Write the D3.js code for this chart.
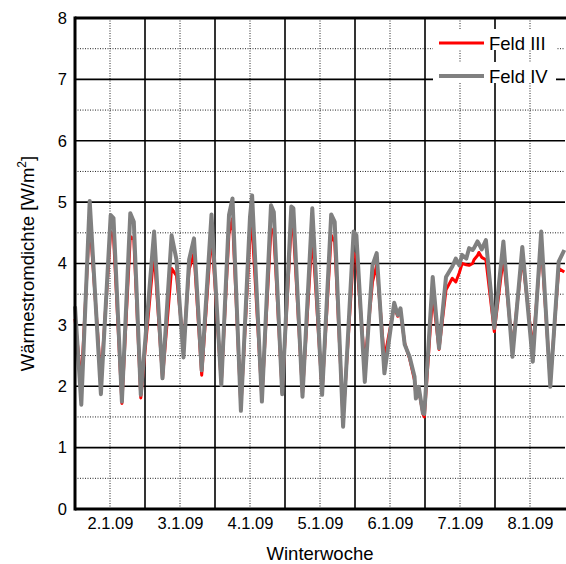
<!DOCTYPE html>
<html>
<head>
<meta charset="utf-8">
<script src="https://cdn.jsdelivr.net/npm/d3@7"></script>
<style>
  html, body { margin: 0; padding: 0; background: #fff; }
  svg { display: block; font-family: "Liberation Sans", Arial, Helvetica, sans-serif; }
</style>
</head>
<body>
<svg id="chart" width="566" height="564"></svg>
<script>
// time in days (1.5 = 1.1.09 12:00)
const times = [1.50, 1.59, 1.71, 1.87, 2.01, 2.05, 2.17, 2.29, 2.34, 2.44, 2.63, 2.75, 2.88, 2.95,
  3.05, 3.13, 3.20, 3.31, 3.45, 3.59, 3.70, 3.75, 3.87, 4.00, 4.03, 4.17, 4.30, 4.34, 4.46,
  4.59, 4.62, 4.75, 4.89, 5.03, 5.16, 5.21, 5.33, 5.48, 5.52, 5.64, 5.75, 5.81, 5.92,
  6.06, 6.11, 6.15, 6.21, 6.28, 6.35, 6.37, 6.41, 6.47, 6.49, 6.61, 6.70, 6.80, 6.89,
  6.94, 6.99, 7.03, 7.09, 7.13, 7.18, 7.20, 7.25, 7.27, 7.31, 7.37, 7.49, 7.62, 7.75,
  7.89, 8.04, 8.16, 8.29, 8.41, 8.49];
const feldIV = [3.30, 1.70, 5.02, 1.87, 4.79, 4.74, 1.75, 4.82, 4.68, 1.86, 4.52, 2.13, 4.46, 4.06,
  2.47, 4.06, 4.41, 2.26, 4.80, 2.02, 4.79, 5.06, 1.60, 4.76, 5.11, 1.75, 4.95, 4.84, 1.87,
  4.93, 4.90, 1.83, 4.90, 1.86, 4.80, 4.68, 1.34, 4.52, 4.46, 2.07, 3.97, 4.17, 2.21,
  3.36, 3.16, 3.27, 2.68, 2.48, 2.16, 1.80, 1.99, 1.56, 1.55, 3.78, 2.62, 3.78, 3.95,
  4.08, 3.97, 4.14, 4.08, 4.25, 4.22, 4.25, 4.36, 4.32, 4.23, 4.38, 2.95, 4.36, 2.48,
  4.27, 2.40, 4.52, 1.99, 4.03, 4.22];
const feldIII = [3.10, 2.05, 4.73, 2.10, 4.52, 4.45, 1.72, 4.44, 4.40, 1.81, 4.19, 2.13, 3.92, 3.80,
  2.65, 3.90, 4.17, 2.18, 4.52, 2.05, 4.50, 4.73, 1.65, 4.45, 4.60, 1.80, 4.57, 4.50, 1.90,
  4.65, 4.55, 1.88, 4.49, 1.90, 4.46, 4.35, 1.45, 4.17, 4.10, 2.35, 3.70, 3.97, 2.45,
  3.30, 3.14, 3.22, 2.70, 2.45, 2.10, 1.85, 1.95, 1.55, 1.50, 3.51, 2.60, 3.57, 3.76,
  3.70, 3.85, 4.00, 3.98, 3.97, 4.00, 4.06, 4.13, 4.18, 4.10, 4.06, 2.89, 4.11, 2.62,
  4.11, 2.60, 4.33, 2.07, 3.92, 3.86];
const xTickValues = [2, 3, 4, 5, 6, 7, 8];
const xTickLabels = ["2.1.09", "3.1.09", "4.1.09", "5.1.09", "6.1.09", "7.1.09", "8.1.09"];
const xMajorGrid = [2.5, 3.5, 4.5, 5.5, 6.5, 7.5];
const yTickValues = [0, 1, 2, 3, 4, 5, 6, 7, 8];
const yMinorGrid = [0.5, 1.5, 2.5, 3.5, 4.5, 5.5, 6.5, 7.5];
const seriesNames = ["Feld III", "Feld IV"];
const seriesColors = ["#ff0000", "#808080"];

const svg = d3.select("#chart");
const L = 75, R = 565, T = 18, B = 509;
const x = d3.scaleLinear().domain([1.5, 8.5]).range([L, R]);
const y = d3.scaleLinear().domain([0, 8]).range([B, T]);

const grid = svg.append("g");
// minor dotted grid
grid.selectAll(".hmin").data(yMinorGrid).enter().append("line")
  .attr("x1", L).attr("x2", R).attr("y1", d => y(d)).attr("y2", d => y(d))
  .attr("stroke", "#222").attr("stroke-width", 1).attr("stroke-dasharray", "1,1.5");
grid.selectAll(".vmin").data(xTickValues).enter().append("line")
  .attr("y1", T).attr("y2", B).attr("x1", d => x(d)).attr("x2", d => x(d))
  .attr("stroke", "#222").attr("stroke-width", 1).attr("stroke-dasharray", "1,1.5");
// major solid grid
grid.selectAll(".hmaj").data(yTickValues.slice(1, -1)).enter().append("line")
  .attr("x1", L).attr("x2", R).attr("y1", d => y(d)).attr("y2", d => y(d))
  .attr("stroke", "#000").attr("stroke-width", 1.6);
grid.selectAll(".vmaj").data(xMajorGrid).enter().append("line")
  .attr("y1", T).attr("y2", B).attr("x1", d => x(d)).attr("x2", d => x(d))
  .attr("stroke", "#000").attr("stroke-width", 1.6);

// lines
const pts = (vals) => times.map((t, i) => [t, vals[i]]);
const line = d3.line().x(d => x(d[0])).y(d => y(d[1]));
svg.append("path").datum(pts(feldIII)).attr("d", line)
  .attr("fill", "none").attr("stroke", seriesColors[0]).attr("stroke-width", 3)
  .attr("stroke-linejoin", "round");
svg.append("path").datum(pts(feldIV)).attr("d", line)
  .attr("fill", "none").attr("stroke", seriesColors[1]).attr("stroke-width", 4)
  .attr("stroke-linejoin", "round");

// frame
svg.append("line").attr("x1", L).attr("x2", L).attr("y1", T - 1.5).attr("y2", B + 1.5)
  .attr("stroke", "#000").attr("stroke-width", 3);
svg.append("line").attr("x1", L).attr("x2", R + 1).attr("y1", T).attr("y2", T)
  .attr("stroke", "#000").attr("stroke-width", 3);
svg.append("line").attr("x1", L).attr("x2", R + 1).attr("y1", B).attr("y2", B)
  .attr("stroke", "#000").attr("stroke-width", 3);

// axes (labels only)
const yAxis = svg.append("g").attr("transform", `translate(${L - 8},0)`)
  .call(d3.axisLeft(y).tickValues(yTickValues).tickSize(0).tickPadding(0).tickFormat(d3.format("d")));
yAxis.select(".domain").remove();
yAxis.selectAll("text").attr("font-size", 16.5).attr("fill", "#000")
  .attr("font-family", "Liberation Sans, Arial, sans-serif");

const xAxis = svg.append("g").attr("transform", `translate(0,${B + 8})`)
  .call(d3.axisBottom(x).tickValues(xTickValues).tickSize(0).tickPadding(0)
    .tickFormat((d, i) => xTickLabels[i]));
xAxis.select(".domain").remove();
xAxis.selectAll("text").attr("font-size", 16.5).attr("fill", "#000")
  .attr("font-family", "Liberation Sans, Arial, sans-serif");

// axis titles
svg.append("text").attr("x", (L + R) / 2).attr("y", 560).attr("text-anchor", "middle")
  .attr("font-size", 18.5).text("Winterwoche");
const yt = svg.append("text").attr("transform", `translate(34,${(T + B) / 2}) rotate(-90)`)
  .attr("text-anchor", "middle").attr("font-size", 18.5);
yt.append("tspan").text("Wärmestromdichte [W/m");
yt.append("tspan").attr("font-size", 12).attr("dy", -8).text("2");
yt.append("tspan").attr("dy", 8).text("]");

// legend
const legendY = [43, 76];
const lg = svg.append("g");
seriesNames.forEach((name, i) => {
  lg.append("rect").attr("x", 433).attr("y", legendY[i] - 14).attr("width", 123).attr("height", 21)
    .attr("fill", "#fff");
  lg.append("line").attr("x1", 439).attr("x2", 484).attr("y1", legendY[i]).attr("y2", legendY[i])
    .attr("stroke", seriesColors[i]).attr("stroke-width", i === 0 ? 3 : 4);
  lg.append("text").attr("x", 489).attr("y", legendY[i] + 7).attr("font-size", 18.5).text(name);
});
</script>
</body>
</html>
